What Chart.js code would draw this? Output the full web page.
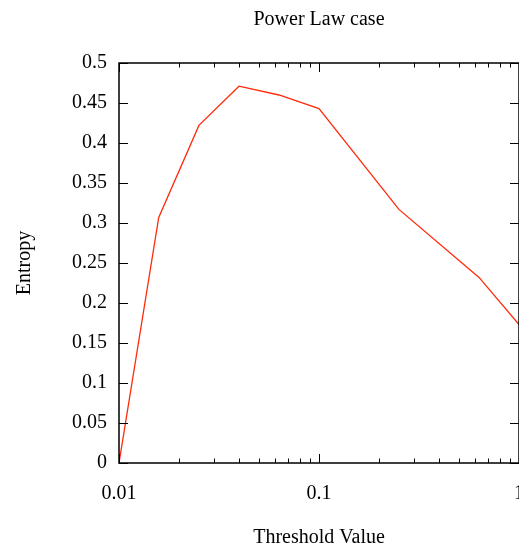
<!DOCTYPE html>
<html>
<head>
<meta charset="utf-8">
<script src="https://cdn.jsdelivr.net/npm/chart.js@4.4.0/dist/chart.umd.min.js"></script>
<style>
  html,body{margin:0;padding:0;background:#fff;overflow:hidden;}
  #wrap{position:absolute;left:0;top:0;width:560px;height:547px;}
</style>
</head>
<body>
<div id="wrap"><canvas id="c" width="560" height="547"></canvas></div>
<script>
// ====== DATA ======
const THRESHOLD = [0.01, 0.0158, 0.0251, 0.0398, 0.0631, 0.1, 0.251, 0.631, 1];
const ENTROPY   = [0, 0.307, 0.422, 0.471, 0.460, 0.443, 0.317, 0.232, 0.173];
const X_TICKS   = [0.01, 0.1, 1];
const X_MINOR   = [0.02,0.03,0.04,0.05,0.06,0.07,0.08,0.09,0.2,0.3,0.4,0.5,0.6,0.7,0.8,0.9];
const Y_TICKS   = [0,0.05,0.1,0.15,0.2,0.25,0.3,0.35,0.4,0.45,0.5];

const FONT = {family:'"Liberation Serif", "DejaVu Serif", serif', size:20, weight:'normal'};

// ====== FRAME + INWARD TICKS ======
const frameTicks = {
  id:'frameTicks',
  afterDraw(chart){
    const {ctx, chartArea:a, scales:{x,y}} = chart;
    ctx.save();
    ctx.strokeStyle='#000'; ctx.lineWidth=1.5;
    ctx.strokeRect(a.left, a.top, a.right-a.left, a.bottom-a.top);
    ctx.lineWidth=1;
    ctx.beginPath();
    X_TICKS.forEach(v=>{ const px=Math.round(x.getPixelForValue(v))+0.5;
      ctx.moveTo(px,a.bottom); ctx.lineTo(px,a.bottom-9); ctx.moveTo(px,a.top); ctx.lineTo(px,a.top+9); });
    X_MINOR.forEach(v=>{ const px=Math.round(x.getPixelForValue(v))+0.5;
      ctx.moveTo(px,a.bottom); ctx.lineTo(px,a.bottom-4.5); ctx.moveTo(px,a.top); ctx.lineTo(px,a.top+4.5); });
    Y_TICKS.forEach(v=>{ const py=Math.round(y.getPixelForValue(v))+0.5;
      ctx.moveTo(a.left,py); ctx.lineTo(a.left+9,py); ctx.moveTo(a.right,py); ctx.lineTo(a.right-9,py); });
    ctx.stroke();
    ctx.restore();
  }
};

// ====== CHART ======
new Chart(document.getElementById('c').getContext('2d'), {
  type:'line',
  data:{ datasets:[{
    data: THRESHOLD.map((t,i)=>({x:t, y:ENTROPY[i]})),
    borderColor:'#ff2a0a', borderWidth:1.3, pointRadius:0, fill:false, tension:0
  }]},
  options:{
    responsive:false, animation:false,
    layout:{padding:{left:0, right:41, top:0, bottom:0}},
    plugins:{
      legend:{display:false}, tooltip:{enabled:false},
      title:{display:true, text:'Power Law case', color:'#000', font:FONT,
             fullSize:false, padding:{top:8, bottom:31}}
    },
    scales:{
      x:{ type:'logarithmic', min:0.01, max:1,
          grid:{display:false, drawTicks:false}, border:{display:false},
          afterBuildTicks:s=>{ s.ticks = X_TICKS.map(v=>({value:v})); },
          afterFit:s=>{ s.height = 84; },
          ticks:{color:'#000', font:FONT, padding:19, maxRotation:0, autoSkip:false,
                 callback:v=>String(v)},
          title:{display:true, text:'Threshold Value', color:'#000', font:FONT, padding:{top:0,bottom:-3}}
      },
      y:{ min:0, max:0.5,
          grid:{display:false, drawTicks:false}, border:{display:false},
          afterBuildTicks:s=>{ s.ticks = Y_TICKS.map(v=>({value:v})); },
          afterFit:s=>{ s.width = 119; },
          ticks:{color:'#000', font:FONT, padding:12, callback:v=>String(parseFloat(v.toFixed(2)))},
          title:{display:true, text:'Entropy', color:'#000', font:FONT, padding:{top:13,bottom:0}}
      }
    }
  },
  plugins:[frameTicks]
});
</script>
</body>
</html>
